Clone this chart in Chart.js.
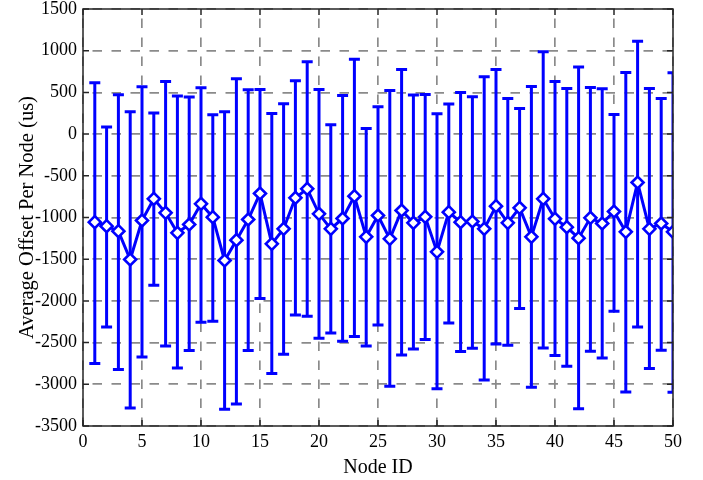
<!DOCTYPE html>
<html>
<head>
<meta charset="utf-8">
<script src="https://cdn.jsdelivr.net/npm/chart.js@4.4.1/dist/chart.umd.min.js"></script>
<style>
  html, body { margin: 0; padding: 0; background: #fff; }
  #wrap { width: 703px; height: 480px; }
</style>
</head>
<body>
<div id="wrap"><canvas id="chart" width="703" height="480"></canvas></div>
<script>
// node ids and values (us)
const nodeIds = [];
for (let i = 1; i <= 50; i++) nodeIds.push(i);

const meanOffset = [
  -1056, -1104, -1164, -1504, -1036, -776, -944, -1184, -1084, -836,
  -996, -1516, -1272, -1024, -712, -1316, -1136, -764, -656, -956,
  -1136, -1012, -744, -1232, -976, -1256, -916, -1064, -992, -1412,
  -936, -1056, -1048, -1136, -864, -1064, -884, -1232, -776, -1016,
  -1116, -1248, -1004, -1072, -928, -1172, -580, -1136, -1072, -1172
];
const upperOffset = [
  616, 84, 472, 268, 568, 252, 632, 456, 444, 556,
  232, 268, 664, 532, 536, 248, 364, 640, 868, 536,
  112, 464, 896, 68, 328, 524, 776, 468, 476, 244,
  360, 500, 448, 688, 776, 428, 308, 572, 988, 632,
  548, 804, 560, 544, 236, 740, 1112, 548, 428, 736
];
const lowerOffset = [
  -2752, -2312, -2824, -3284, -2672, -1812, -2540, -2804, -2596, -2256,
  -2244, -3300, -3236, -2596, -1972, -2872, -2640, -2168, -2184, -2448,
  -2384, -2484, -2428, -2540, -2288, -3024, -2648, -2576, -2464, -3052,
  -2264, -2608, -2568, -2948, -2516, -2532, -2092, -3036, -2564, -2656,
  -2784, -3292, -2604, -2684, -2124, -3092, -2312, -2812, -2592, -3096
];

const blue = '#0000ff';
const axisColor = '#262626';
const gridColor = '#8a8a8a';
const fontFam = '"Liberation Serif", "Times New Roman", serif';

// vertical error bars with caps, drawn under the line
const errorBars = {
  id: 'errorBars',
  beforeDatasetsDraw(chart) {
    const ctx = chart.ctx;
    const xs = chart.scales.x, ys = chart.scales.y;
    const area = chart.chartArea;
    ctx.save();
    ctx.beginPath();
    ctx.rect(area.left, area.top, area.right - area.left, area.bottom - area.top);
    ctx.clip();
    ctx.strokeStyle = blue;
    ctx.lineWidth = 3;
    for (let i = 0; i < nodeIds.length; i++) {
      const x = xs.getPixelForValue(nodeIds[i]);
      const yTop = ys.getPixelForValue(upperOffset[i]);
      const yBot = ys.getPixelForValue(lowerOffset[i]);
      ctx.beginPath();
      ctx.moveTo(x, yTop); ctx.lineTo(x, yBot);
      ctx.moveTo(x - 5.5, yTop); ctx.lineTo(x + 5.5, yTop);
      ctx.moveTo(x - 5.5, yBot); ctx.lineTo(x + 5.5, yBot);
      ctx.stroke();
    }
    ctx.restore();
  }
};

// matlab style box with inward ticks
const boxAxes = {
  id: 'boxAxes',
  afterDraw(chart) {
    const ctx = chart.ctx;
    const a = chart.chartArea;
    const xs = chart.scales.x, ys = chart.scales.y;
    const len = 6;
    ctx.save();
    ctx.strokeStyle = axisColor;
    ctx.lineWidth = 1.5;
    ctx.beginPath();
    xs.ticks.forEach(t => {
      const x = xs.getPixelForValue(t.value);
      ctx.moveTo(x, a.bottom); ctx.lineTo(x, a.bottom - len);
      ctx.moveTo(x, a.top); ctx.lineTo(x, a.top + len);
    });
    ys.ticks.forEach(t => {
      const y = ys.getPixelForValue(t.value);
      ctx.moveTo(a.left, y); ctx.lineTo(a.left + len, y);
      ctx.moveTo(a.right, y); ctx.lineTo(a.right - len, y);
    });
    ctx.stroke();
    ctx.strokeRect(a.left, a.top, a.right - a.left, a.bottom - a.top);
    ctx.restore();
  }
};

const ctx = document.getElementById('chart').getContext('2d');
new Chart(ctx, {
  type: 'line',
  data: {
    datasets: [{
      data: nodeIds.map((id, i) => ({ x: id, y: meanOffset[i] })),
      borderColor: blue,
      borderWidth: 3,
      pointStyle: 'rectRot',
      pointRadius: 6,
      pointBorderWidth: 2.6,
      pointBorderColor: blue,
      pointBackgroundColor: '#ffffff',
      tension: 0
    }]
  },
  options: {
    responsive: false,
    animation: false,
    events: [],
    layout: { padding: { left: 0, right: 30, top: 9, bottom: 0 } },
    plugins: { legend: { display: false }, tooltip: { enabled: false } },
    scales: {
      x: {
        type: 'linear',
        min: 0, max: 50,
        afterFit: s => { s.height = 54; s.paddingLeft = 0; s.paddingRight = 0; },
        ticks: { stepSize: 5, color: '#000', padding: 5, maxRotation: 0,
                 callback: v => String(v),
                 font: { family: fontFam, size: 18 } },
        grid: { color: gridColor, lineWidth: 1.7, drawTicks: false },
        border: { display: false, dash: [9.5, 9.5], dashOffset: 9.5 },
        title: { display: true, text: 'Node ID', color: '#000',
                 padding: { top: 0, bottom: 0 },
                 font: { family: fontFam, size: 20 } }
      },
      y: {
        min: -3500, max: 1500,
        afterFit: s => { s.width = 83; s.paddingTop = 0; s.paddingBottom = 0; },
        ticks: { stepSize: 500, color: '#000', padding: 6,
                 callback: v => String(v),
                 font: { family: fontFam, size: 18 } },
        grid: { color: gridColor, lineWidth: 1.7, drawTicks: false },
        border: { display: false, dash: [9.5, 9.5], dashOffset: 9.5 },
        title: { display: true, text: 'Average Offset Per Node (us)', color: '#000',
                 padding: { top: 15, bottom: 0 },
                 font: { family: fontFam, size: 20.5 } }
      }
    }
  },
  plugins: [errorBars, boxAxes]
});
</script>
</body>
</html>
